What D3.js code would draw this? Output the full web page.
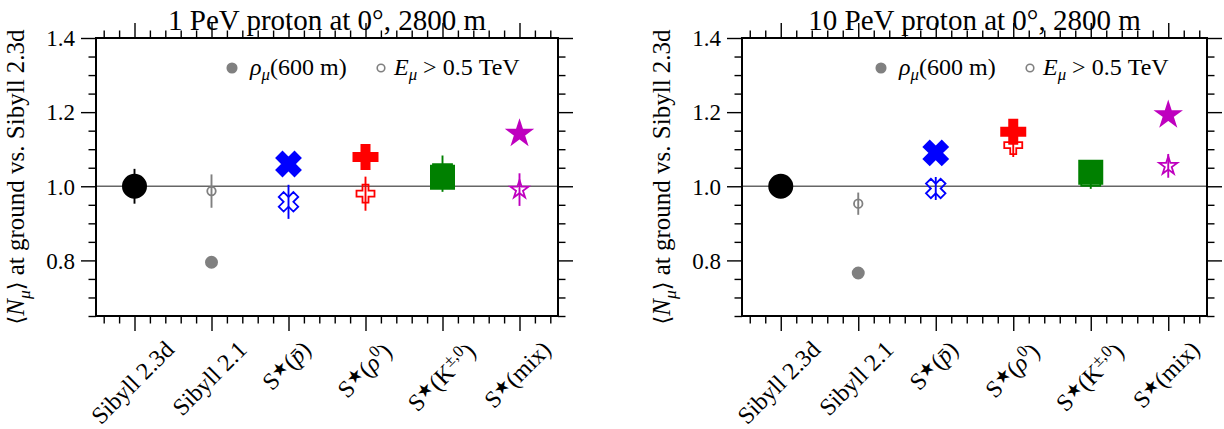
<!DOCTYPE html>
<html><head><meta charset="utf-8">
<script src="https://cdn.jsdelivr.net/npm/d3@7"></script>
<style>
body{margin:0;background:#fff}
svg{display:block}
</style>
</head><body>
<svg id="chart" width="1224" height="429"></svg>
<script>
// ---------------- data ----------------
const categories = ["Sibyll 2.3d", "Sibyll 2.1", "S★(p̄)", "S★(ρ0)", "S★(K±,0)", "S★(mix)"];
const panelTitles = ["1 PeV proton at 0°, 2800 m", "10 PeV proton at 0°, 2800 m"];
const yMajorTicks = [0.8, 1.0, 1.2, 1.4];
const yTickLabels = ["0.8", "1.0", "1.2", "1.4"];
const legendLabels = ["ρμ(600 m)", "Eμ > 0.5 TeV"];

// rho_mu(600 m)  (filled markers)
const rho1PeV     = [1.000, 0.795, 1.060, 1.079, 1.024, 1.142];
const rho1PeVErr  = [0.010, 0.008, 0.008, 0.008, 0.008, 0.008];
const rho10PeV    = [1.000, 0.766, 1.090, 1.147, 1.038, 1.192];
const rho10PeVErr = [0.008, 0.006, 0.006, 0.006, 0.006, 0.006];
// E_mu > 0.5 TeV (open markers)
const emu1PeV     = [1.000, 0.987, 0.958, 0.980, 1.034, 0.991];
const emu1PeVErr  = [0.047, 0.045, 0.046, 0.046, 0.049, 0.044];
const emu10PeV    = [1.000, 0.953, 0.994, 1.111, 1.027, 1.055];
const emu10PeVErr = [0.030, 0.030, 0.031, 0.032, 0.034, 0.032];

// ---------------- styles ----------------
const colors = ["#000000", "#808080", "#0000ff", "#ff0000", "#008000", "#bf00bf"];
const shapes = ["circle", "circle", "x", "plus", "square", "star"];
const filledSize = [23, 11, 24, 24, 23, 24.5];
const openSize = [20, 8.5, 19.5, 18, 19, 19];
const FONT = "'Liberation Serif', 'Times New Roman', serif";
const FONT_SYM = "'DejaVu Serif', 'DejaVu Sans', serif";

const labelParts = [
  [{t: "Sibyll 2.3d"}],
  [{t: "Sibyll 2.1"}],
  [{t: "S"}, {t: "★", star: 1}, {t: "("}, {t: "p\u0304", it: 1}, {t: ")"}],
  [{t: "S"}, {t: "★", star: 1}, {t: "("}, {t: "ρ", it: 1}, {t: "0", sup: 1}, {t: ")"}],
  [{t: "S"}, {t: "★", star: 1}, {t: "(K"}, {t: "±,0", sup: 1}, {t: ")"}],
  [{t: "S"}, {t: "★", star: 1}, {t: "(mix)"}]
];

const W = 1224, H = 429;
const yTop = 38, yBottom = 316;
const panels = [
  {title: panelTitles[0], rho: rho1PeV, rhoErr: rho1PeVErr, emu: emu1PeV, emuErr: emu1PeVErr, left: 96, right: 558},
  {title: panelTitles[1], rho: rho10PeV, rhoErr: rho10PeVErr, emu: emu10PeV, emuErr: emu10PeVErr, left: 742, right: 1207}
];

const FS_TICK = 23, FS_X = 24, FS_LEG = 24, FS_YL = 25, FS_TITLE = 29;
const MAJ = 15, MIN = 7.5;

const svg = d3.select("#chart").attr("font-family", FONT);
svg.append("rect").attr("width", W).attr("height", H).attr("fill", "#fff");

function markerPath(shape, s) {
  const h = s / 2;
  let pts;
  if (shape === "circle") {
    return `M${h},0A${h},${h} 0 1 1 ${-h},0A${h},${h} 0 1 1 ${h},0Z`;
  } else if (shape === "square") {
    pts = [[-h, -h], [h, -h], [h, h], [-h, h]];
  } else if (shape === "x") {
    pts = [[-1,-2],[0,-1],[1,-2],[2,-1],[1,0],[2,1],[1,2],[0,1],[-1,2],[-2,1],[-1,0],[-2,-1]].map(p => [p[0]/4*s, p[1]/4*s]);
  } else if (shape === "plus") {
    pts = [[-1,-3],[-1,-1],[-3,-1],[-3,1],[-1,1],[-1,3],[1,3],[1,1],[3,1],[3,-1],[1,-1],[1,-3]].map(p => [p[0]/6*s, p[1]/6*s]);
  } else if (shape === "star") {
    pts = [];
    for (let k = 0; k < 10; k++) {
      const r = (k % 2 === 0) ? h : h * 0.381966;
      const a = -Math.PI / 2 + k * Math.PI / 5;
      pts.push([r * Math.cos(a), r * Math.sin(a)]);
    }
  }
  return "M" + pts.map(p => p[0].toFixed(2) + "," + p[1].toFixed(2)).join("L") + "Z";
}

function txt(sel) {
  return sel.append("text").attr("font-family", FONT).attr("fill", "#000");
}

function drawPanel(p) {
  const x = d3.scaleLinear().domain([-0.5, 5.5]).range([p.left, p.right]);
  const y = d3.scaleLinear().domain([0.65, 1.4]).range([yBottom, yTop]);
  const g = svg.append("g");

  const xMajor = d3.range(categories.length);
  const xMinor = d3.range(-0.4, 5.5, 0.2).map(v => +v.toFixed(2)).filter(v => Math.abs(v - Math.round(v)) > 1e-6);
  const yMinor = d3.range(0.65, 1.4001, 0.05).map(v => +v.toFixed(2)).filter(v => !yMajorTicks.some(t => Math.abs(t - v) < 1e-6));

  function addAxis(axisFn, scale, vals, size, transform) {
    const a = g.append("g").attr("transform", transform)
      .call(axisFn(scale).tickValues(vals).tickSize(size).tickSizeOuter(0).tickFormat(""));
    a.select(".domain").remove();
    a.selectAll(".tick line").attr("stroke", "#000").attr("stroke-width", 1.4);
    a.selectAll(".tick text").remove();
  }
  addAxis(d3.axisBottom, x, xMajor, MAJ, `translate(0,${yBottom})`);
  addAxis(d3.axisBottom, x, xMinor, MIN, `translate(0,${yBottom})`);
  addAxis(d3.axisTop, x, xMajor, MAJ, `translate(0,${yTop})`);
  addAxis(d3.axisTop, x, xMinor, MIN, `translate(0,${yTop})`);
  addAxis(d3.axisLeft, y, yMajorTicks, MAJ, `translate(${p.left},0)`);
  addAxis(d3.axisLeft, y, yMinor, MIN, `translate(${p.left},0)`);
  addAxis(d3.axisRight, y, yMajorTicks, MAJ, `translate(${p.right},0)`);
  addAxis(d3.axisRight, y, yMinor, MIN, `translate(${p.right},0)`);

  // y tick labels
  yMajorTicks.forEach((d, i) => {
    txt(g).attr("x", p.left - MAJ - 6).attr("y", y(d)).attr("dy", "0.36em")
      .attr("text-anchor", "end").attr("font-size", FS_TICK).text(yTickLabels[i]);
  });

  // x tick labels (rotated 45°, centered on tick)
  labelParts.forEach((parts, i) => {
    const t = txt(g).attr("font-size", FS_X).attr("x", 0).attr("y", 0);
    let shift = 0;
    parts.forEach(pt => {
      const ts = t.append("tspan").text(pt.t);
      let target = 0;
      if (pt.sup) { ts.attr("font-size", FS_X * 0.7); target = -FS_X * 0.38; }
      if (pt.star) { ts.attr("font-size", FS_X * 0.75); target = -FS_X * 0.2; }
      if (pt.it) ts.attr("font-style", "italic");
      ts.attr("dy", target - shift);
      shift = target;
    });
    const bb = t.node().getBBox();
    const cx = bb.x + bb.width / 2, cy = bb.y + bb.height / 2;
    const rotH = (bb.width + bb.height * 0.8) / Math.SQRT2;
    const topY = 338;
    t.attr("transform", `translate(${x(i) - 2},${topY + rotH / 2}) rotate(-45) translate(${-cx},${-cy})`);
  });

  // reference line
  g.append("line").attr("x1", p.left).attr("x2", p.right)
    .attr("y1", y(1.0)).attr("y2", y(1.0))
    .attr("stroke", "#666").attr("stroke-width", 1.6);

  // open markers (E_mu > 0.5 TeV) with error bars
  p.emu.forEach((v, i) => {
    g.append("line").attr("x1", x(i)).attr("x2", x(i))
      .attr("y1", y(v - p.emuErr[i])).attr("y2", y(v + p.emuErr[i]))
      .attr("stroke", colors[i]).attr("stroke-width", 1.9);
    g.append("path").attr("d", markerPath(shapes[i], openSize[i]))
      .attr("transform", `translate(${x(i)},${y(v)})`)
      .attr("fill", "none").attr("stroke", colors[i]).attr("stroke-width", 1.8)
      .attr("stroke-linejoin", "miter");
  });
  // filled markers (rho_mu(600 m))
  p.rho.forEach((v, i) => {
    g.append("line").attr("x1", x(i)).attr("x2", x(i))
      .attr("y1", y(v - p.rhoErr[i])).attr("y2", y(v + p.rhoErr[i]))
      .attr("stroke", colors[i]).attr("stroke-width", 1.9);
    g.append("path").attr("d", markerPath(shapes[i], filledSize[i]))
      .attr("transform", `translate(${x(i)},${y(v)})`)
      .attr("fill", colors[i]).attr("stroke", colors[i]).attr("stroke-width", 2)
      .attr("stroke-linejoin", "miter");
  });

  // frame
  g.append("rect").attr("x", p.left).attr("y", yTop)
    .attr("width", p.right - p.left).attr("height", yBottom - yTop)
    .attr("fill", "none").attr("stroke", "#000").attr("stroke-width", 2);

  // title
  txt(g).attr("x", (p.left + p.right) / 2).attr("y", 30)
    .attr("text-anchor", "middle").attr("font-size", FS_TITLE).text(p.title);

  // y label
  const yl = txt(g).attr("font-size", FS_YL).attr("text-anchor", "middle")
    .attr("transform", `translate(${p.left - 72},${(yTop + yBottom) / 2}) rotate(-90)`);
  yl.append("tspan").attr("font-family", FONT_SYM).attr("font-size", FS_YL * 0.9).text("⟨");
  yl.append("tspan").attr("font-style", "italic").text("N");
  yl.append("tspan").attr("font-style", "italic").attr("font-size", FS_YL * 0.7).attr("dy", FS_YL * 0.22).text("μ");
  yl.append("tspan").attr("font-family", FONT_SYM).attr("font-size", FS_YL * 0.9).attr("dy", -FS_YL * 0.22).text("⟩");
  yl.append("tspan").text(" at ground vs. Sibyll 2.3d");

  // legend
  const ly = 68;
  const grey = "#808080";
  g.append("circle").attr("cx", p.right - 326).attr("cy", ly).attr("r", 4.8).attr("fill", grey).attr("stroke", grey).attr("stroke-width", 1.5);
  const t1 = txt(g).attr("x", p.right - 308).attr("y", ly + 7).attr("font-size", FS_LEG);
  t1.append("tspan").attr("font-style", "italic").text("ρ");
  t1.append("tspan").attr("font-style", "italic").attr("font-size", FS_LEG * 0.7).attr("dy", FS_LEG * 0.22).text("μ");
  t1.append("tspan").attr("dy", -FS_LEG * 0.22).text("(600 m)");
  g.append("circle").attr("cx", p.right - 177).attr("cy", ly).attr("r", 3.8).attr("fill", "none").attr("stroke", grey).attr("stroke-width", 1.6);
  const t2 = txt(g).attr("x", p.right - 164).attr("y", ly + 7).attr("font-size", FS_LEG);
  t2.append("tspan").attr("font-style", "italic").text("E");
  t2.append("tspan").attr("font-style", "italic").attr("font-size", FS_LEG * 0.7).attr("dy", FS_LEG * 0.22).text("μ");
  t2.append("tspan").attr("dy", -FS_LEG * 0.22).text(" > 0.5 TeV");
}

panels.forEach(drawPanel);
</script>
</body></html>
